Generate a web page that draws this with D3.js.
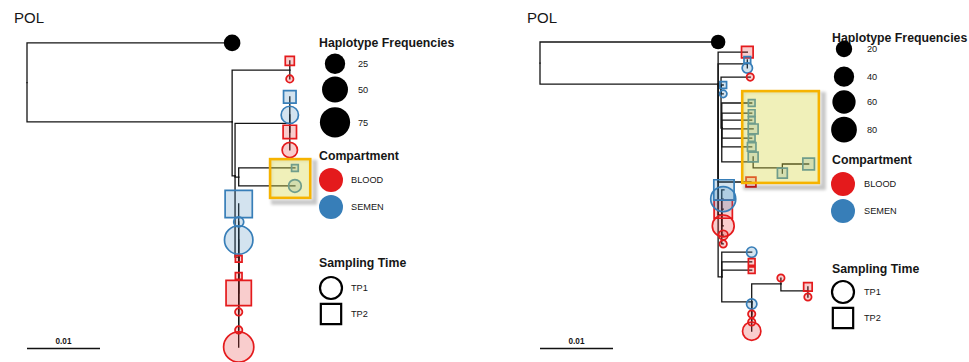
<!DOCTYPE html>
<html>
<head>
<meta charset="utf-8">
<script src="https://cdn.jsdelivr.net/npm/d3@7/dist/d3.min.js"></script>
<style>
  html, body { margin: 0; padding: 0; background: #fff; }
  svg { display: block; }
  text { font-family: "Liberation Sans", Arial, Helvetica, sans-serif; fill: #161616; }
</style>
</head>
<body>
<svg id="chart" width="969" height="362"></svg>
<script>
// ---------------------------------------------------------------------------
// Tree topology: [node id, parent id, divergence from root (subst./site), vertical position 0-100]
// ---------------------------------------------------------------------------
const leftTree = [
  ["root", null, 0, 13.3],
  ["ref", "root", 0.0281, 0.3],
  ["A", "root", 0.0281, 26.2],
  ["B", "A", 0.0360, 9.2],
  ["B1", "B", 0.0360, 6.2],
  ["B2", "B", 0.0360, 12.1],
  ["C", "A", 0.0285, 43.9],
  ["Q", "C", 0.0360, 26.7],
  ["Q1", "Q", 0.0360, 18.0],
  ["Q2", "Q", 0.0360, 23.9],
  ["Q3", "Q", 0.0360, 29.5],
  ["Q4", "Q", 0.0360, 35.4],
  ["E", "C", 0.0290, 44.3],
  ["E1", "E", 0.0367, 41.3],
  ["E2", "E", 0.0367, 47.2],
  ["D", "C", 0.0290, 70.5],
  ["D1", "D", 0.0290, 53.1],
  ["D2", "D", 0.0290, 59.0],
  ["D3", "D", 0.0290, 64.9],
  ["D4", "D", 0.0290, 71.1],
  ["D5", "D", 0.0290, 76.7],
  ["D6", "D", 0.0290, 82.3],
  ["D7", "D", 0.0290, 88.5],
  ["D8", "D", 0.0290, 94.4],
  ["D9", "D", 0.0290, 100]
];

const rightTree = [
  ["root", null, 0, 6.9],
  ["ref", "root", 0.0244, 0],
  ["N", "root", 0.0244, 13.8],
  ["a1", "N", 0.0284, 3.3],
  ["n2", "N", 0.0284, 7.2],
  ["a2", "n2", 0.0284, 5.9],
  ["a3", "n2", 0.0284, 8.5],
  ["M", "N", 0.0248, 14.4],
  ["a4", "M", 0.0288, 11.5],
  ["a5", "M", 0.0251, 14.1],
  ["a6", "M", 0.0251, 17.0],
  ["T", "M", 0.0249, 28.2],
  ["t1", "T", 0.0290, 20.0],
  ["t2", "T", 0.0290, 23.3],
  ["t3", "T", 0.0290, 25.6],
  ["t4", "T", 0.0292, 28.5],
  ["t5", "T", 0.0290, 31.5],
  ["t6", "T", 0.0290, 34.4],
  ["U", "T", 0.0292, 39.3],
  ["t7", "U", 0.0292, 37.7],
  ["W", "U", 0.0332, 41.3],
  ["t8", "W", 0.0332, 43.0],
  ["t9", "W", 0.0368, 40.0],
  ["b1", "N", 0.0289, 45.9],
  ["K", "N", 0.0249, 56.7],
  ["k1", "K", 0.0252, 48.5],
  ["k2", "K", 0.0251, 51.5],
  ["k3", "K", 0.0251, 54.8],
  ["k4", "K", 0.0251, 60.3],
  ["k5", "K", 0.0251, 63.3],
  ["k6", "K", 0.0251, 66.2],
  ["Z", "N", 0.0249, 77.0],
  ["c1", "Z", 0.0290, 68.9],
  ["c2", "Z", 0.0290, 72.1],
  ["c3", "Z", 0.0290, 74.8],
  ["S", "Z", 0.0290, 85.2],
  ["s1", "S", 0.0290, 85.9],
  ["s2", "S", 0.0290, 89.2],
  ["s3", "S", 0.0290, 91.8],
  ["s4", "S", 0.0290, 94.8],
  ["P", "S", 0.0330, 79.3],
  ["p1", "P", 0.0330, 77.4],
  ["Qb", "P", 0.0367, 81.6],
  ["q1", "Qb", 0.0367, 80.3],
  ["q2", "Qb", 0.0367, 83.6]
];

// Haplotypes at the tips: [node id, frequency, compartment, sampling time]
const leftTips = [
  ["ref", 13, "REF", "REF"],
  ["B1", 2, "BLOOD", "TP2"],
  ["B2", 1, "BLOOD", "TP1"],
  ["Q1", 7, "SEMEN", "TP2"],
  ["Q2", 15, "SEMEN", "TP1"],
  ["Q3", 9, "BLOOD", "TP2"],
  ["Q4", 10, "BLOOD", "TP1"],
  ["E1", 1, "SEMEN", "TP2"],
  ["E2", 5, "SEMEN", "TP1"],
  ["D1", 75, "SEMEN", "TP2"],
  ["D2", 2, "SEMEN", "TP1"],
  ["D3", 64, "SEMEN", "TP1"],
  ["D4", 1, "BLOOD", "TP2"],
  ["D5", 1, "BLOOD", "TP2"],
  ["D6", 62, "BLOOD", "TP2"],
  ["D7", 1, "BLOOD", "TP1"],
  ["D8", 1, "BLOOD", "TP1"],
  ["D9", 75, "BLOOD", "TP1"]
];

const rightTips = [
  ["ref", 13, "REF", "REF"],
  ["a1", 8, "BLOOD", "TP2"],
  ["a2", 1, "SEMEN", "TP2"],
  ["a3", 3, "SEMEN", "TP1"],
  ["a4", 1, "BLOOD", "TP1"],
  ["a5", 1, "SEMEN", "TP2"],
  ["a6", 1, "SEMEN", "TP1"],
  ["t1", 1, "SEMEN", "TP2"],
  ["t2", 1, "SEMEN", "TP2"],
  ["t3", 1, "SEMEN", "TP2"],
  ["t4", 4, "SEMEN", "TP2"],
  ["t5", 1, "SEMEN", "TP2"],
  ["t6", 2, "SEMEN", "TP2"],
  ["t7", 4, "SEMEN", "TP2"],
  ["t8", 4, "SEMEN", "TP2"],
  ["t9", 8, "SEMEN", "TP2"],
  ["b1", 4, "BLOOD", "TP2"],
  ["k3", 40, "BLOOD", "TP2"],
  ["k4", 50, "BLOOD", "TP1"],
  ["k5", 2, "BLOOD", "TP1"],
  ["k6", 1, "BLOOD", "TP1"],
  ["k1", 55, "SEMEN", "TP2"],
  ["k2", 74, "SEMEN", "TP1"],
  ["c1", 3, "SEMEN", "TP1"],
  ["c2", 1, "BLOOD", "TP2"],
  ["c3", 1, "BLOOD", "TP2"],
  ["s1", 3, "SEMEN", "TP1"],
  ["s2", 1, "BLOOD", "TP1"],
  ["s3", 1, "BLOOD", "TP1"],
  ["s4", 29, "BLOOD", "TP1"],
  ["p1", 1, "BLOOD", "TP1"],
  ["q1", 2, "BLOOD", "TP2"],
  ["q2", 1, "BLOOD", "TP1"]
];

// Highlighted clade extents: [divergence from, divergence to, position from, position to]
const leftHighlight = [0.0333, 0.0388, 38.4, 51.1];
const rightHighlight = [0.0277, 0.0382, 16.1, 46.2];

// Legend entries
const leftFreqTicks = [25, 50, 75];
const rightFreqTicks = [20, 40, 60, 80];
const compartments = ["BLOOD", "SEMEN"];
const samplingTimes = ["TP1", "TP2"];
const scaleBarLength = 0.01;

// ---------------------------------------------------------------------------
const COLOR = { BLOOD: "#e41a1c", SEMEN: "#377eb8", REF: "#000000" };
const svg = d3.select("#chart");

const defs = svg.append("defs");
defs.append("filter").attr("id", "soft").attr("x", "-20%").attr("y", "-20%")
  .attr("width", "140%").attr("height", "140%")
  .append("feGaussianBlur").attr("stdDeviation", 1.4);

function shapePath(time, r) {
  if (time === "TP2") {
    const h = r * 0.9;
    return `M${-h},${-h}H${h}V${h}H${-h}Z`;
  }
  return `M${r},0A${r},${r} 0 1,1 ${-r},0A${r},${r} 0 1,1 ${r},0Z`;
}

function drawPanel(p) {
  const g = svg.append("g");
  const x = d3.scaleLinear().domain([0, scaleBarLength]).range([p.originX, p.originX + 73]);
  const y = d3.scaleLinear().domain([0, 100]).range([42, 347]);
  const area = d3.scaleSqrt().domain([0, p.maxFreq - 1]).range([3.7, 15.1]);
  const radius = f => area(Math.max(0, f - 1));

  // title
  g.append("text").attr("x", p.titleX).attr("y", 23).attr("font-size", 15).text("POL");

  const root = d3.stratify().id(d => d[0]).parentId(d => d[1])(p.tree);
  const byId = new Map(root.descendants().map(n => [n.id, n]));

  // branches (rectangular elbows)
  g.append("g")
    .attr("fill", "none").attr("stroke", "#141414").attr("stroke-width", 1.3)
    .attr("stroke-linecap", "square")
    .selectAll("path").data(root.links()).join("path")
    .attr("d", ({ source: s, target: t }) =>
      `M${x(s.data[2])},${y(s.data[3])}V${y(t.data[3])}H${x(t.data[2])}`);

  // haplotype markers
  g.append("g").selectAll("path").data(p.tips).join("path")
    .attr("transform", d => {
      const n = byId.get(d[0]);
      return `translate(${x(n.data[2])},${y(n.data[3])})`;
    })
    .attr("d", d => shapePath(d[3], radius(d[1])))
    .attr("fill", d => COLOR[d[2]])
    .attr("fill-opacity", d => d[2] === "REF" ? 1 : 0.22)
    .attr("stroke", d => d[2] === "REF" ? "none" : COLOR[d[2]])
    .attr("stroke-width", 1.7);

  // highlighted clade
  const [d0, d1, r0, r1] = p.highlight;
  const bx = x(d0), by = y(r0), bw = x(d1) - x(d0), bh = y(r1) - y(r0);
  const outer = `M${bx - 1},${by - 1}h${bw + 6}v${bh + 6}h${-bw - 6}Z`;
  const inner = `M${bx},${by}h${bw}v${bh}h${-bw}Z`;
  g.append("path").attr("d", outer + inner).attr("fill-rule", "evenodd")
    .attr("transform", "translate(2,2)")
    .attr("fill", "#000").attr("opacity", 0.22).attr("filter", "url(#soft)");
  g.append("rect").attr("x", bx).attr("y", by).attr("width", bw).attr("height", bh)
    .attr("fill", "rgb(214,214,62)").attr("fill-opacity", 0.36)
    .attr("stroke", "#f6b300").attr("stroke-width", 2.6);

  // scale bar
  g.append("line").attr("x1", x(0)).attr("x2", x(scaleBarLength))
    .attr("y1", 348.5).attr("y2", 348.5).attr("stroke", "#111").attr("stroke-width", 1.4);
  g.append("text").attr("x", (x(0) + x(scaleBarLength)) / 2).attr("y", 344)
    .attr("text-anchor", "middle").attr("font-size", 8.2).attr("font-weight", "bold")
    .attr("fill", "#333").text(d3.format(".2f")(scaleBarLength));

  // legend
  const L = p.legend;
  const lg = g.append("g");
  const heading = (t, yy) => lg.append("text").attr("x", L.x).attr("y", yy)
    .attr("font-size", 12.3).attr("font-weight", "bold").attr("fill", "#111").text(t);
  const label = (t, xx, yy) => lg.append("text").attr("x", xx).attr("y", yy)
    .attr("dy", "0.35em").attr("font-size", 9.2).attr("fill", "#222").text(t);

  heading("Haplotype Frequencies", L.titles[0]);
  p.freqTicks.forEach((v, i) => {
    lg.append("circle").attr("cx", L.freqX).attr("cy", L.freqY[i]).attr("r", radius(v)).attr("fill", "#000");
    label(v, L.freqLabelX, L.freqY[i]);
  });

  heading("Compartment", L.titles[1]);
  compartments.forEach((c, i) => {
    lg.append("circle").attr("cx", L.keyX).attr("cy", L.compY[i]).attr("r", 12).attr("fill", COLOR[c]);
    label(c, L.labelX, L.compY[i]);
  });

  heading("Sampling Time", L.titles[2]);
  samplingTimes.forEach((t, i) => {
    lg.append("path").attr("transform", `translate(${L.keyX},${L.timeY[i]})`)
      .attr("d", shapePath(t, t === "TP2" ? 11.3 : 11)).attr("fill", "none")
      .attr("stroke", "#000").attr("stroke-width", 2.2);
    label(t, L.labelX, L.timeY[i]);
  });
}

drawPanel({
  tree: leftTree, tips: leftTips, highlight: leftHighlight, freqTicks: leftFreqTicks,
  maxFreq: 75, originX: 27, titleX: 14,
  legend: { x: 319, titles: [47, 160, 267], freqX: 335, freqY: [63.7, 89.5, 122.3], freqLabelX: 358,
            keyX: 331, labelX: 351, compY: [180, 207], timeY: [288, 314] }
});

drawPanel({
  tree: rightTree, tips: rightTips, highlight: rightHighlight, freqTicks: rightFreqTicks,
  maxFreq: 123, originX: 540, titleX: 527,
  legend: { x: 832, titles: [42, 164, 273], freqX: 844, freqY: [49, 76.7, 102, 129.7], freqLabelX: 867,
            keyX: 843, labelX: 864, compY: [184, 211], timeY: [292, 318] }
});
</script>
</body>
</html>
